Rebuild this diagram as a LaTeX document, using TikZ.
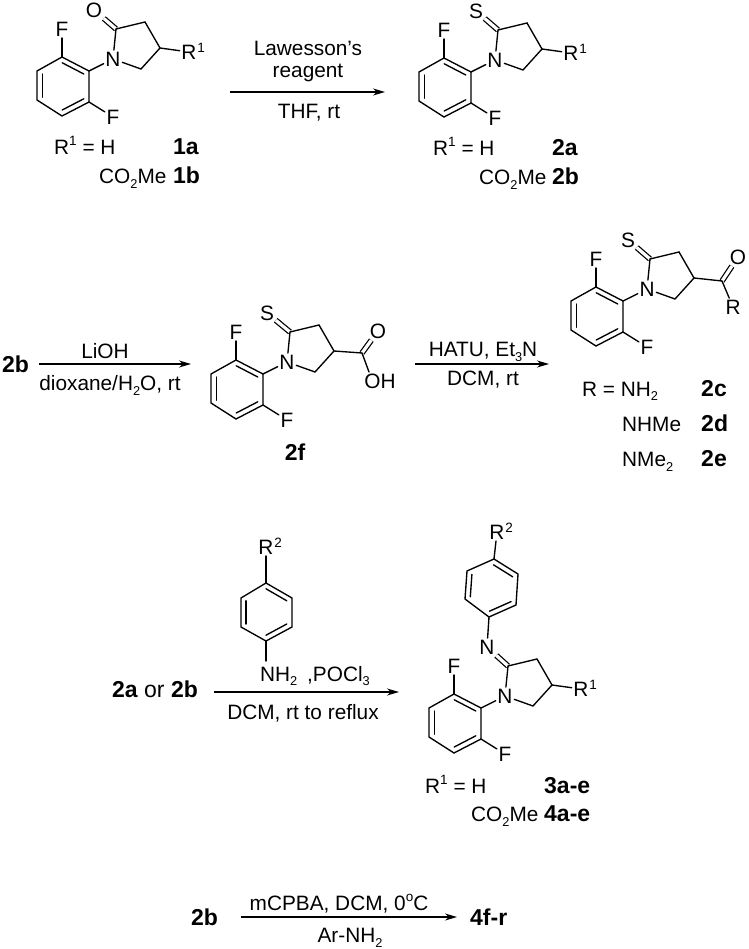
\documentclass[tikz,border=0pt]{standalone}
\usepackage{fontspec}
\setmainfont{Liberation Sans}
\usetikzlibrary{arrows.meta,calc}
\newcommand\sbs[1]{\raisebox{-.24em}{\fontsize{12.8}{14}\selectfont #1}}
\newcommand\sps[1]{\raisebox{.45em}{\fontsize{13.5}{14}\selectfont #1}}
\tikzset{
  bond/.style={line width=1.35pt,black,line cap=round},
  dblbond/.style={double=white,double distance=3.2pt,line width=1.25pt,black},
  atom/.style={inner sep=1.6pt,font=\fontsize{20.8}{22}\selectfont},
  txt/.style={inner sep=0pt,font=\fontsize{20.8}{22}\selectfont},
  cmpd/.style={inner sep=0pt,font=\fontsize{23}{25}\selectfont\bfseries},
  rxn/.style={line width=1.35pt,-{Stealth[length=12pt,width=7pt]}},
}
% common 2,6-difluorophenyl-pyrrolidine skeleton
\newcommand\skel[3]{%
\begin{scope}[shift={(#2,#3)}]
  \coordinate (#1a1) at (89,71);
  \coordinate (#1a2) at (62,57);
  \coordinate (#1a3) at (37,71);
  \coordinate (#1a4) at (37,100);
  \coordinate (#1a5) at (62,116);
  \coordinate (#1a6) at (89,102);
  \coordinate (#1ac) at (63,86);
  \node[atom] (#1F1) at (62,29) {F};
  \node[atom] (#1F2) at (113,117) {F};
  \node[atom] (#1N) at (113,59) {N};
  \coordinate (#1c2) at (116,29);
  \coordinate (#1c3) at (145,22);
  \coordinate (#1c4) at (160,48);
  \coordinate (#1c5) at (141,69);
  \draw[bond] (#1a1)--(#1a2)--(#1a3)--(#1a4)--(#1a5)--(#1a6)--cycle;
  \draw[bond] ($(#1a1)!.2!(#1ac)$)--($(#1a2)!.2!(#1ac)$);
  \draw[bond] ($(#1a3)!.2!(#1ac)$)--($(#1a4)!.2!(#1ac)$);
  \draw[bond] ($(#1a5)!.2!(#1ac)$)--($(#1a6)!.2!(#1ac)$);
  \draw[bond] (#1a2)--(#1F1);
  \draw[bond] (#1a6)--(#1F2);
  \draw[bond] (#1a1)--(#1N);
  \draw[bond] (#1N)--(#1c2);
  \draw[bond] (#1c2)--(#1c3)--(#1c4)--(#1c5);
  \draw[bond] (#1c5)--(#1N);
\end{scope}}
% R^n label
\newcommand\rlabel[5]{%
  \node[atom] (#1) at (#2,#3) {#4};
  \node[txt,anchor=base west] (#1s) at ([xshift=-1.2pt,yshift=7pt]#1.base east) {\fontsize{13.5}{14}\selectfont #5};}
\begin{document}
\begin{tikzpicture}[x=1pt,y=-1pt]
\useasboundingbox (0,0) rectangle (748,949);
\fill[white] (0,0) rectangle (748,949);

% ---- 1a/1b
\coordinate (Ac2) at (116,29);
\node[atom] (AO) at (94,10) {O};
\draw[dblbond] (Ac2)--(AO);
\skel{A}{0}{0}
\rlabel{AR}{189}{52}{R}{1}
\draw[bond] (Ac4)--(AR);
\node[txt,anchor=base west] (t1) at (54,155) {R\sps{1} = H};
\node[cmpd,anchor=base west] (t2) at (173,155) {1a};
\node[txt,anchor=base west] (t3) at (99,184) {CO\sbs{2}Me};
\node[cmpd,anchor=base west] (t4) at (173,184) {1b};

% ---- arrow 1
\coordinate (a1s) at (230,92);
\coordinate (a1e) at (385,92);
\draw[rxn] (a1s)--(a1e);
\node[txt] (r1) at (308,48) {Lawesson's};
\node[txt] (r2) at (308,72.5) {reagent};
\node[txt] (r3) at (309,113) {THF, rt};

% ---- 2a/2b
\coordinate (Bc2) at (498,30);
\node[atom] (BS) at (476,11) {S};
\draw[dblbond] (Bc2)--(BS);
\skel{B}{382}{1}
\rlabel{BR}{571}{53}{R}{1}
\draw[bond] (Bc4)--(BR);
\node[txt,anchor=base west] (t5) at (433,156) {R\sps{1} = H};
\node[cmpd,anchor=base west] (t6) at (552,156) {2a};
\node[txt,anchor=base west] (t7) at (479,185) {CO\sbs{2}Me};
\node[cmpd,anchor=base west] (t8) at (552,185) {2b};

% ---- row 2
\node[cmpd,anchor=base west] (s2b) at (2,372) {2b};
\coordinate (a2s) at (39,364);
\coordinate (a2e) at (191,364);
\draw[rxn] (a2s)--(a2e);
\node[txt] (r4) at (105,351) {LiOH};
\node[txt,anchor=base] (r5) at (110,390.5) {dioxane/H\sbs{2}O, rt};

\coordinate (Cc2) at (290,332);
\node[atom] (CS) at (267,313) {S};
\draw[dblbond] (Cc2)--(CS);
\skel{C}{174}{303}
\coordinate (Cco) at (362,353);
\coordinate (Coh) at (369,372);
\node[atom] (CO) at (378,331) {O};
\node[atom] (COH) at (380,381) {OH};
\draw[dblbond] (Cco)--(CO);
\draw[bond] (Cc4)--(Cco);
\draw[bond] (Cco)--(Coh);
\node[cmpd] (t9) at (295,452) {2f};

\coordinate (a3s) at (415,364);
\coordinate (a3e) at (549,364);
\draw[rxn] (a3s)--(a3e);
\node[txt,anchor=base] (r6) at (483,356.5) {HATU, Et\sbs{3}N};
\node[txt] (r7) at (483,380) {DCM, rt};

\coordinate (Dc2) at (650,259);
\node[atom] (DS2) at (628,240) {S};
\draw[dblbond] (Dc2)--(DS2);
\skel{D}{534}{230}
\coordinate (Dco) at (722,281);
\node[atom] (DO) at (738,257) {O};
\node[atom] (DR) at (733,307) {R};
\draw[dblbond] (Dco)--(DO);
\draw[bond] (Dc4)--(Dco);
\draw[bond] (Dco)--(DR);
\node[txt,anchor=base west] (t10) at (582,396) {R = NH\sbs{2}};
\node[cmpd,anchor=base west] (t11) at (701,396) {2c};
\node[txt,anchor=base west] (t12) at (622,431.5) {NHMe};
\node[cmpd,anchor=base west] (t13) at (701,431.5) {2d};
\node[txt,anchor=base west] (t14) at (622,466.5) {NMe\sbs{2}};
\node[cmpd,anchor=base west] (t15) at (701,466.5) {2e};

% ---- row 3
\node[cmpd,anchor=base west] (s3) at (112,697) {2a {\fontseries{m}\selectfont or} 2b};
\coordinate (a4s) at (214,692);
\coordinate (a4e) at (399,692);
\draw[rxn] (a4s)--(a4e);
\node[txt] (r8) at (303,713) {DCM, rt to reflux};

\rlabel{ER}{266}{547}{R}{2}
\coordinate (e1) at (266,583);
\coordinate (e2) at (292,598);
\coordinate (e3) at (292,627);
\coordinate (e4) at (266,641);
\coordinate (e5) at (241,627);
\coordinate (e6) at (241,598);
\coordinate (ec) at (266,612);
\coordinate (eN) at (266,661);
\draw[bond] (e1)--(e2)--(e3)--(e4)--(e5)--(e6)--cycle;
\draw[bond] ($(e1)!.2!(ec)$)--($(e2)!.2!(ec)$);
\draw[bond] ($(e3)!.2!(ec)$)--($(e4)!.2!(ec)$);
\draw[bond] ($(e5)!.2!(ec)$)--($(e6)!.2!(ec)$);
\draw[bond] (e1)--(ER);
\node[txt,anchor=base west] (NH) at (260,681) {NH\sbs{2}};
\node[txt,anchor=base west] (POC) at (307,681) {,POCl\sbs{3}};
\draw[bond] (e4)--(eN);

\coordinate (Fc2) at (508,666);
\node[atom] (Fimine) at (487,647) {N};
\draw[dblbond] (Fc2)--(Fimine);
\skel{F}{392}{637}
\rlabel{FR}{581}{689}{R}{1}
\draw[bond] (Fc4)--(FR);
\coordinate (f1) at (489,617);
\coordinate (f2) at (516,605);
\coordinate (f3) at (518,574);
\coordinate (f4) at (494,559);
\coordinate (f5) at (467,571);
\coordinate (f6) at (465,599);
\coordinate (fc) at (491.5,588);
\draw[bond] (f1)--(f2)--(f3)--(f4)--(f5)--(f6)--cycle;
\draw[bond] ($(f1)!.2!(fc)$)--($(f2)!.2!(fc)$);
\draw[bond] ($(f3)!.2!(fc)$)--($(f4)!.2!(fc)$);
\draw[bond] ($(f5)!.2!(fc)$)--($(f6)!.2!(fc)$);
\draw[bond] (f1)--(Fimine);
\rlabel{FRR}{497}{532}{R}{2}
\draw[bond] (f4)--(FRR);
\node[txt,anchor=base west] (t16) at (425,793.5) {R\sps{1} = H};
\node[cmpd,anchor=base west] (t17) at (544,793.5) {3a-e};
\node[txt,anchor=base west] (t18) at (471,821.5) {CO\sbs{2}Me};
\node[cmpd,anchor=base west] (t19) at (544,821.5) {4a-e};

% ---- row 4
\node[cmpd,anchor=base west] (s4) at (191,925) {2b};
\node[cmpd,anchor=base west] (p4) at (470,925) {4f-r};
\coordinate (a5s) at (241,917);
\coordinate (a5e) at (457,917);
\draw[rxn] (a5s)--(a5e);
\node[txt,anchor=base] (r9) at (339,910.5) {mCPBA, DCM, 0\sps{o}C};
\node[txt,anchor=base] (r10) at (350,942) {Ar-NH\sbs{2}};
\end{tikzpicture}
\end{document}
